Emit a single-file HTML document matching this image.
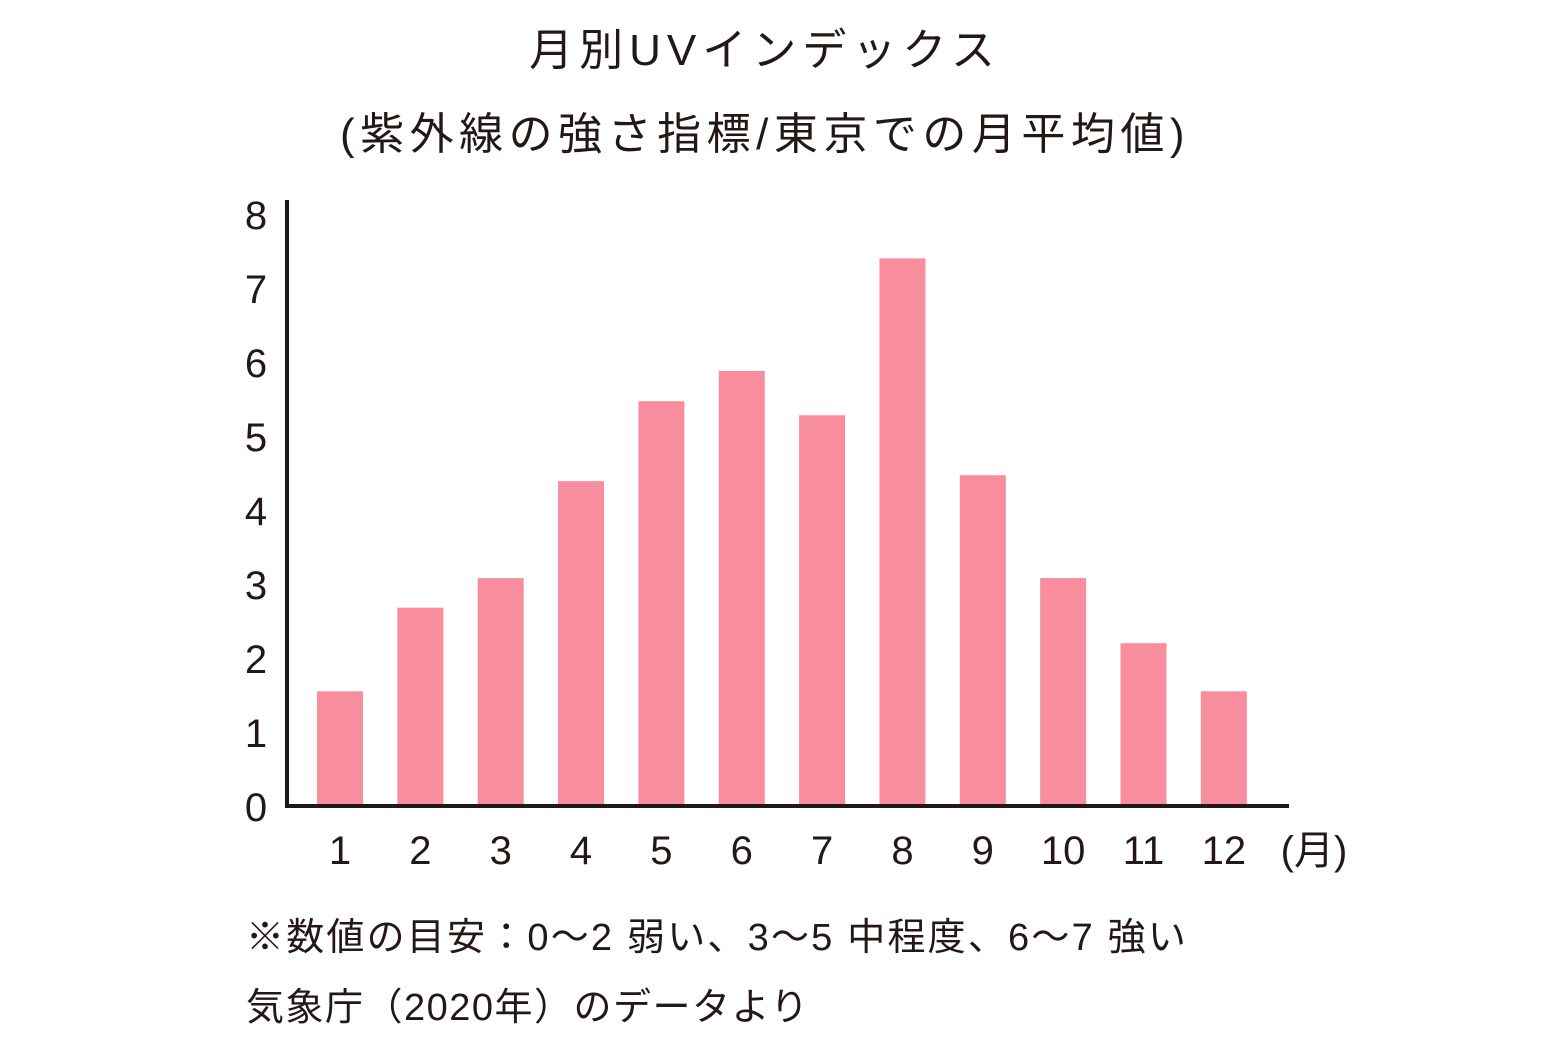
<!DOCTYPE html>
<html><head><meta charset="utf-8">
<style>
html,body{margin:0;padding:0;background:#fff;}
body{width:1560px;height:1040px;position:relative;overflow:hidden;font-family:"Liberation Sans","Noto Sans CJK JP",sans-serif;color:#231815;}
.t{position:absolute;white-space:nowrap;}
</style></head>
<body>
<div class="t" style="left:0;width:1530px;text-align:center;top:14px;font-size:44px;letter-spacing:6px;">月別UVインデックス</div>
<div class="t" style="left:0;width:1530px;text-align:center;top:98px;font-size:44px;letter-spacing:5.5px;">(紫外線の強さ指標/東京での月平均値)</div>
<svg id="chart" width="1560" height="1040" style="position:absolute;left:0;top:0"></svg>
<div class="t" style="left:246px;top:906px;font-size:38px;letter-spacing:2.2px;">※数値の目安：0〜2 弱い、3〜5 中程度、6〜7 強い</div>
<div class="t" style="left:246px;top:976px;font-size:38px;letter-spacing:1.5px;">気象庁（2020年）のデータより</div>
<script>
const categories=["1","2","3","4","5","6","7","8","9","10","11","12"];
const values=[1.55,2.68,3.08,4.39,5.47,5.88,5.28,7.4,4.47,3.08,2.2,1.55];
const yTicks=[0,1,2,3,4,5,6,7,8];
const NS="http://www.w3.org/2000/svg";
const svg=document.getElementById('chart');
const y0=806,unit=74,x0=340,step=80.35,bw=46;
function ys(v){return y0-v*unit;}
function xs(i){return x0+i*step;}
function mk(t,a){const e=document.createElementNS(NS,t);for(const k in a)e.setAttribute(k,a[k]);svg.appendChild(e);return e;}
values.forEach((v,i)=>{
 const r=mk('rect',{x:xs(i)-bw/2,y:ys(v),width:bw,height:y0-ys(v),fill:'#f78d9d'});
 
 
 const t=mk('text',{x:xs(i),y:864,'text-anchor':'middle','font-size':40,fill:'#231815'});
 t.textContent=categories[i];
 
 
});
yTicks.forEach(v=>{
 const t=mk('text',{x:256,y:ys(v)+15,'text-anchor':'middle','font-size':40,fill:'#231815'});
 t.textContent=v;
 
 
});
const ya=mk('line',{x1:287,y1:200,x2:287,y2:808,stroke:'#231815','stroke-width':4});


const xa=mk('line',{x1:285,y1:806,x2:1289,y2:806,stroke:'#231815','stroke-width':4});


const u=mk('text',{x:1314,y:864,'text-anchor':'middle','font-size':40,fill:'#231815'});
u.textContent='(月)';


</script>
</body></html>
